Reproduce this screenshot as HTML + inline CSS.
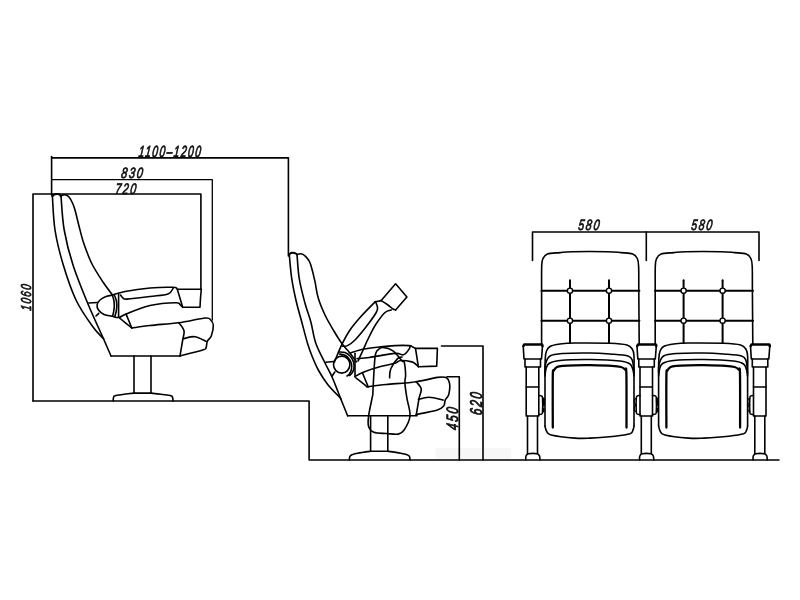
<!DOCTYPE html>
<html><head><meta charset="utf-8">
<style>
html,body{margin:0;padding:0;background:#fff;width:800px;height:600px;overflow:hidden}
svg{display:block;will-change:transform}

</style></head>
<body>
<svg width="800" height="600" viewBox="0 0 800 600">
<rect x="435.6" y="448" width="75.6" height="10.7" fill="#f7f7f7"/>
<g fill="none" stroke="#000" stroke-width="1.6" stroke-linejoin="round" stroke-linecap="round">
<path d="M51.6,195.0 L51.6,156.5"/>
<path d="M51.6,157.9 L288.4,157.9 L288.4,256.0"/>
<path d="M51.6,179.7 L212.3,179.7 L212.3,320.0" stroke-width="1.3"/>
<path d="M33.0,401.0 L33.0,194.0 L200.9,194.0 L200.9,289.5"/>
<path d="M33.0,401.0 L309.1,401.0 L309.1,460.0 L779.0,460.0"/>
<path d="M441.5,346.0 L483.0,346.0 L483.0,460.0"/>
<path d="M447.0,376.7 L459.3,376.7 L459.3,460.0"/>
<path d="M532.5,260.5 L532.5,232.0 L759.0,232.0 L759.0,260.5"/>
<path d="M646.3,232.0 L646.3,260.5"/>
<path d="M52.3,195.0 C52.8,200.8 53.2,218.5 55.0,230.0 C56.8,241.5 59.5,252.3 63.0,264.0 C66.5,275.7 71.0,289.5 76.0,300.0 C81.0,310.5 88.4,320.6 93.0,327.0 C97.6,333.4 101.8,336.8 103.5,338.7"/>
<path d="M103.5,338.7 L111.0,356.0"/>
<path d="M52.5,196.0 C52.9,195.7 53.9,194.6 55.0,194.3 C56.1,194.0 58.0,194.0 59.0,194.3 C60.0,194.6 60.7,195.7 61.0,196.0" stroke-width="2.2"/>
<path d="M61.0,196.0 C61.5,201.7 62.2,218.5 64.2,230.0 C66.2,241.5 69.0,252.7 73.0,265.0 C77.0,277.3 82.9,291.7 88.0,304.0 C93.1,316.3 100.9,332.9 103.5,338.7"/>
<path d="M60.5,196.0 C61.2,195.8 63.6,194.6 65.0,194.8 C66.4,195.0 67.8,195.6 69.0,197.0 C70.2,198.4 71.5,200.8 72.5,203.0 C73.5,205.2 73.9,206.2 75.0,210.0 C76.1,213.8 77.5,220.3 79.0,226.0 C80.5,231.7 81.8,237.7 84.0,244.0 C86.2,250.3 88.8,257.7 92.0,264.0 C95.2,270.3 99.6,276.8 103.0,282.0 C106.4,287.2 110.9,292.8 112.5,295.0"/>
<path d="M111.0,356.0 L180.2,356.0"/>
<path d="M119.0,317.5 C121.1,319.2 129.6,326.2 131.8,328.0"/>
<path d="M131.8,328.0 C134.8,327.6 142.2,326.4 150.0,325.5 C157.8,324.6 169.5,323.9 178.7,322.7 C187.9,321.4 200.0,318.4 205.3,318.0 C210.6,317.6 209.4,318.8 210.7,320.0 C212.0,321.2 213.2,322.6 213.3,325.3 C213.4,328.0 212.3,333.3 211.3,336.0 C210.3,338.7 208.2,339.3 207.3,341.3 C206.4,343.3 206.8,346.6 206.0,348.0 C205.2,349.4 207.0,348.7 202.7,350.0 C198.4,351.3 183.8,355.0 180.0,356.0"/>
<path d="M183.3,338.7 C185.2,338.4 190.9,336.3 194.7,336.7 C198.5,337.1 204.1,340.5 206.0,341.3"/>
<path d="M178.7,322.7 C179.6,324.0 183.3,327.8 184.0,330.7 C184.7,333.6 183.4,335.8 182.7,340.0 C182.0,344.2 180.4,353.3 180.0,356.0"/>
<path d="M112.5,316.3 C111.1,316.0 106.3,315.6 104.0,314.5 C101.7,313.4 99.7,311.6 98.5,310.0 C97.3,308.4 96.8,306.7 97.1,305.0 C97.3,303.3 98.5,301.4 100.0,300.0 C101.5,298.6 103.9,297.3 106.0,296.5 C108.1,295.7 111.4,295.2 112.5,295.0"/>
<path d="M112.5,295.0 C114.6,294.4 118.8,292.7 125.0,291.5 C131.2,290.3 141.9,288.7 150.0,288.0 C158.1,287.3 168.8,287.1 173.3,287.3 C177.9,287.5 176.6,289.0 177.3,289.3"/>
<path d="M120.5,295.0 C120.9,295.5 121.9,297.3 123.0,298.0 C124.1,298.7 122.8,299.4 127.2,299.1 C131.8,298.9 143.2,297.4 150.0,296.5 C156.8,295.6 164.1,295.4 168.0,294.0 C171.9,292.6 172.4,289.0 173.3,288.0"/>
<path d="M112.5,316.3 C113.6,316.5 116.8,317.9 119.0,317.5 C121.2,317.1 120.8,316.0 126.0,314.0 C131.2,312.0 141.7,307.4 150.0,305.5 C158.3,303.6 171.0,302.8 176.0,302.7 C181.0,302.6 178.9,303.9 180.0,304.7 C181.1,305.5 182.2,306.9 182.7,307.3"/>
<path d="M126.1,314.1 L131.8,328.0"/>
<path d="M112.2,295.0 C112.5,295.8 113.5,298.2 113.8,300.0 C114.1,301.8 114.3,304.0 114.3,306.0 C114.3,308.0 113.9,310.3 113.6,312.0 C113.3,313.7 112.7,315.6 112.5,316.3"/>
<path d="M114.3,295.0 C114.6,295.9 115.9,298.7 116.3,300.5 C116.7,302.3 116.8,304.2 116.8,306.0 C116.8,307.8 116.5,309.8 116.2,311.5 C115.9,313.2 115.0,315.7 114.8,316.5"/>
<path d="M118.6,294.0 L118.6,317.0"/>
<path d="M177.3,289.3 L201.3,289.3 L200.5,298.0 L200.0,307.3 L182.7,307.3 L177.3,289.3"/>
<path d="M88.8,303.0 L97.5,302.5"/>
<path d="M96.0,316.0 L98.8,313.3"/>
<path d="M134.0,356.0 L134.0,393.1"/>
<path d="M151.0,356.0 L151.0,393.1"/>
<path d="M113.3,401.0 C113.3,400.5 113.1,398.9 113.4,398.0 C113.7,397.1 113.2,396.4 115.0,395.8 C116.8,395.2 120.8,394.8 124.0,394.3 C127.2,393.9 132.3,393.3 134.0,393.1"/>
<path d="M134.0,393.1 L151.0,393.1"/>
<path d="M151.0,393.1 C152.7,393.3 157.7,393.9 161.0,394.3 C164.3,394.8 169.1,395.2 171.0,395.8 C172.9,396.4 172.4,397.1 172.7,398.0 C173.0,398.9 172.9,400.5 173.0,401.0"/>
<path d="M289.3,255.0 C289.7,258.9 290.5,270.2 291.7,278.3 C292.9,286.4 295.0,296.1 296.7,303.3 C298.4,310.5 299.9,315.0 301.7,321.7 C303.5,328.4 305.8,337.6 307.5,343.3 C309.2,349.0 310.2,351.6 312.0,356.0 C313.8,360.4 315.7,365.3 318.3,370.0 C320.9,374.7 323.8,379.4 327.5,384.2 C331.2,388.9 338.5,396.1 340.8,398.5"/>
<path d="M340.8,399.0 L347.6,415.8"/>
<path d="M289.0,255.0 C289.3,254.7 290.1,253.3 291.0,253.0 C291.9,252.7 293.5,252.8 294.5,253.0 C295.5,253.2 296.6,254.2 297.0,254.5" stroke-width="2.0"/>
<path d="M297.0,254.5 C297.4,258.5 297.9,270.2 299.2,278.3 C300.5,286.4 303.1,296.1 305.0,303.3 C306.9,310.5 309.0,315.0 310.8,321.7 C312.6,328.4 313.4,336.4 315.8,343.3 C318.2,350.2 322.2,357.2 325.0,363.0 C327.8,368.8 329.9,372.0 332.5,378.0 C335.1,384.0 339.4,395.5 340.8,399.0"/>
<path d="M297.0,254.5 C297.7,254.4 299.7,253.6 301.0,253.8 C302.3,254.0 303.8,254.8 305.0,255.8 C306.2,256.8 307.5,258.5 308.5,260.0 C309.5,261.5 309.7,261.4 310.8,265.0 C311.9,268.6 313.8,276.1 315.0,281.7 C316.2,287.2 316.6,292.8 318.3,298.3 C320.0,303.9 322.5,309.7 325.0,315.0 C327.5,320.3 330.5,325.3 333.3,330.0 C336.1,334.7 339.1,339.6 341.7,343.3 C344.3,347.0 346.5,348.9 349.0,352.0 C351.5,355.1 355.2,360.1 356.5,361.8"/>
<path d="M347.6,415.8 L417.0,415.8"/>
<path d="M325.8,362.2 L334.0,361.5"/>
<path d="M331.8,376.5 L334.8,372.0"/>
<path d="M333.5,364.6 A8.2,8.5 0 1,0 349.9,364.6 A8.2,8.5 0 1,0 333.5,364.6Z"/>
<path d="M338.5,352.0 C339.6,352.1 343.0,351.8 345.0,352.5 C347.0,353.2 349.1,354.9 350.5,356.5 C351.9,358.1 352.9,360.1 353.5,362.0 C354.1,363.9 354.2,366.2 354.0,368.0 C353.8,369.8 352.8,371.8 352.0,373.0 C351.2,374.2 349.9,375.1 349.5,375.5"/>
<path d="M339.5,354.0 C340.5,354.2 343.8,354.6 345.5,355.5 C347.2,356.4 348.5,358.1 349.5,359.5 C350.5,360.9 351.2,362.4 351.5,364.0 C351.8,365.6 351.8,367.3 351.5,369.0 C351.2,370.7 350.2,372.8 349.5,374.0 C348.8,375.2 347.4,375.7 347.0,376.0"/>
<path d="M355.0,353.3 L355.0,376.7"/>
<path d="M381.2,300.6 L395.6,283.8 L406.9,296.9 L395.6,310.0"/>
<path d="M381.2,300.6 C382.4,301.3 386.0,303.6 388.0,305.0 C390.0,306.4 391.7,308.2 393.0,309.0 C394.3,309.8 395.2,309.8 395.6,310.0"/>
<path d="M375.0,301.9 C372.7,304.3 365.4,311.6 361.2,316.2 C357.1,320.9 353.2,325.3 350.0,330.0 C346.8,334.7 344.5,339.1 341.9,344.4 C339.3,349.7 335.7,359.1 334.5,362.0"/>
<path d="M375.0,301.9 L378.1,301.2 L381.2,300.6"/>
<path d="M375.6,301.9 C375.9,302.8 377.4,305.7 377.5,307.5 C377.6,309.3 377.9,309.6 376.2,312.5 C374.6,315.4 371.0,320.4 367.5,325.0 C364.0,329.6 358.3,336.6 355.0,340.0 C351.7,343.4 349.6,344.6 347.5,345.6 C345.4,346.6 343.3,346.1 342.5,346.2"/>
<path d="M391.2,310.0 C390.2,310.4 387.5,310.2 385.0,312.5 C382.5,314.8 379.0,319.6 376.2,323.8 C373.5,327.9 370.8,333.4 368.8,337.5 C366.7,341.6 365.5,344.6 363.8,348.5 C362.0,352.4 359.0,358.8 358.1,360.9"/>
<path d="M350.2,353.0 C352.5,352.3 358.7,350.0 363.8,349.0 C368.8,348.0 375.4,347.4 380.6,346.8 C385.8,346.2 390.2,345.8 395.0,345.6 C399.8,345.4 406.2,345.4 409.1,345.6 C412.1,345.8 411.6,346.5 412.7,347.0 C413.8,347.5 415.0,348.2 415.5,348.4"/>
<path d="M357.0,358.6 C359.1,358.4 363.1,358.4 369.4,357.5 C375.7,356.6 389.3,353.8 395.0,353.4 C400.7,352.9 401.1,355.5 403.5,354.8 C405.9,354.1 408.1,350.6 409.1,349.1 C410.2,347.7 409.9,346.5 410.0,346.0"/>
<path d="M354.8,376.6 C356.2,375.8 359.4,373.7 363.8,372.0 C368.1,370.3 375.4,367.9 380.6,366.5 C385.8,365.1 391.7,364.3 395.0,363.3 C398.3,362.3 397.8,360.7 400.7,360.5 C403.5,360.3 409.5,361.3 412.0,361.9 C414.5,362.5 414.4,363.2 415.5,364.0 C416.6,364.8 417.9,366.3 418.4,366.8"/>
<path d="M415.5,348.4 L437.4,348.4 L436.7,366.1 L418.4,366.8 L415.5,348.4"/>
<path d="M355.9,377.8 C357.8,379.2 365.2,385.2 367.1,386.8"/>
<path d="M367.1,386.8 C370.3,386.4 378.1,385.3 386.2,384.5 C394.4,383.7 407.7,382.9 416.2,381.7 C424.7,380.5 432.5,378.2 437.4,377.4 C442.4,376.7 443.9,376.5 445.9,377.4 C447.9,378.4 449.0,380.3 449.5,383.1 C450.0,385.9 449.5,391.6 448.8,394.4 C448.1,397.2 446.0,398.2 445.2,400.1 C444.4,402.0 445.1,404.1 443.8,405.8 C442.5,407.4 442.1,408.5 437.4,410.0 C432.8,411.5 419.7,413.8 416.2,414.5"/>
<path d="M362.6,373.2 L368.2,386.8"/>
<path d="M416.2,381.7 C417.0,382.9 420.7,386.0 421.2,388.8 C421.7,391.6 419.8,394.3 419.0,398.7 C418.2,403.1 416.7,412.3 416.2,415.0"/>
<path d="M418.4,399.4 C420.1,399.0 424.9,397.2 429.0,397.3 C433.1,397.4 440.8,399.6 443.1,400.1"/>
<path d="M372.8,394.6 C373.1,388.4 374.1,365.0 375.0,357.5 C375.9,350.0 377.1,351.3 378.4,349.6 C379.7,347.9 380.5,347.2 382.9,347.4 C385.3,347.6 389.8,348.5 393.0,350.8 C396.2,353.0 400.1,359.0 402.0,360.9 C403.9,362.8 403.6,359.7 404.2,362.0 C404.8,364.3 405.5,371.1 405.6,374.6 C405.7,378.1 404.7,379.1 404.9,383.1 C405.1,387.1 406.1,393.2 407.0,398.7 C407.9,404.2 410.5,410.8 410.0,416.0 C409.5,421.2 406.1,427.0 404.1,430.0 C402.2,433.0 401.2,433.5 398.3,434.1 C395.4,434.7 390.7,433.8 386.6,433.5 C382.5,433.2 376.8,433.5 373.8,432.3 C370.8,431.1 369.5,429.2 368.6,426.5 C367.7,423.8 367.9,421.3 368.6,416.0 C369.3,410.7 372.1,398.2 372.8,394.6"/>
<path d="M389.6,377.8 C389.8,376.2 389.4,371.9 390.8,368.8 C392.1,365.6 395.6,360.6 397.5,358.6 C399.4,356.6 401.2,357.3 402.0,357.0"/>
<path d="M370.6,415.8 L370.6,451.3"/>
<path d="M387.8,415.8 L387.8,451.3"/>
<path d="M349.3,460.0 C349.5,459.3 349.1,456.7 350.5,455.6 C351.9,454.5 354.2,454.0 357.5,453.3 C360.8,452.6 368.3,451.6 370.5,451.3"/>
<path d="M370.5,451.3 L387.8,451.3"/>
<path d="M387.8,451.3 C389.9,451.6 397.1,452.6 400.6,453.3 C404.1,454.0 407.2,454.5 408.8,455.6 C410.4,456.7 409.8,459.3 410.0,460.0"/>
<path d="M541.6,344.0 C541.6,335.0 541.6,303.0 541.6,290.0 C541.6,277.0 541.5,271.2 541.7,266.0 C541.9,260.8 541.8,261.0 542.8,259.0 C543.8,257.0 544.5,255.1 547.4,254.0 C550.3,252.9 555.9,253.0 560.0,252.6 C564.1,252.2 564.2,251.8 572.0,251.7 C579.8,251.5 598.8,251.5 607.0,251.7 C615.2,251.8 616.7,252.2 621.0,252.6 C625.3,253.0 630.0,253.0 632.7,254.0 C635.4,255.0 636.3,256.5 637.3,258.5 C638.3,260.5 638.4,260.8 638.6,266.0 C638.9,271.2 638.7,277.0 638.8,290.0 C638.9,303.0 639.1,335.0 639.2,344.0"/>
<path d="M541.5,290.7 L639.4,290.7" stroke-width="2.0"/>
<path d="M541.5,320.7 L639.4,320.7" stroke-width="2.0"/>
<path d="M570.0,280.3 L570.0,343.0" stroke-width="2.0"/>
<path d="M609.0,280.3 L609.0,343.0" stroke-width="2.0"/>
<path d="M567.4,290.7 a2.6,2.6 0 1,0 5.2,0 a2.6,2.6 0 1,0 -5.2,0Z" stroke-width="1.4" fill="#fff"/>
<path d="M567.4,320.7 a2.6,2.6 0 1,0 5.2,0 a2.6,2.6 0 1,0 -5.2,0Z" stroke-width="1.4" fill="#fff"/>
<path d="M606.4,290.7 a2.6,2.6 0 1,0 5.2,0 a2.6,2.6 0 1,0 -5.2,0Z" stroke-width="1.4" fill="#fff"/>
<path d="M606.4,320.7 a2.6,2.6 0 1,0 5.2,0 a2.6,2.6 0 1,0 -5.2,0Z" stroke-width="1.4" fill="#fff"/>
<path d="M545.0,373.0 C545.0,370.5 545.0,361.7 545.3,358.0 C545.5,354.3 545.7,352.9 546.5,351.0 C547.3,349.1 547.8,347.7 550.0,346.5 C552.2,345.3 555.8,344.6 560.0,344.0 C564.2,343.4 566.7,343.1 575.0,343.0 C583.3,342.9 601.3,343.0 610.0,343.3 C618.7,343.6 623.2,344.0 627.0,345.0 C630.8,346.0 631.3,347.7 632.5,349.5 C633.7,351.3 633.8,352.1 634.0,356.0 C634.2,359.9 634.0,370.2 634.0,373.0"/>
<path d="M545.0,373.0 L545.0,426.0"/>
<path d="M634.0,373.0 L634.0,426.0"/>
<path d="M545.0,426.0 C545.2,426.8 545.5,429.5 546.5,431.0 C547.5,432.5 546.5,433.8 551.2,435.0 C556.0,436.2 568.5,437.6 575.0,438.1 C581.5,438.6 583.3,438.4 590.0,438.1 C596.7,437.8 608.3,437.0 615.0,436.2 C621.7,435.5 627.0,434.8 630.0,433.8 C633.0,432.7 632.3,431.3 633.0,430.0 C633.7,428.7 633.8,426.7 634.0,426.0"/>
<path d="M545.0,373.0 C545.1,371.5 544.7,366.8 545.5,364.0 C546.3,361.2 547.1,357.8 550.0,356.0 C552.9,354.2 556.3,354.0 563.0,353.5 C569.7,353.0 582.2,352.9 590.0,353.0 C597.8,353.1 603.7,353.5 610.0,354.0 C616.3,354.5 624.2,354.8 628.0,356.0 C631.8,357.2 631.5,358.2 632.5,361.0 C633.5,363.8 633.8,371.0 634.0,373.0"/>
<path d="M545.0,376.0 C545.2,374.8 545.3,371.1 546.0,369.0 C546.7,366.9 546.7,364.9 549.0,363.5 C551.3,362.1 553.2,361.2 560.0,360.5 C566.8,359.8 580.0,359.4 590.0,359.5 C600.0,359.6 613.3,360.2 620.0,361.0 C626.7,361.8 627.8,362.5 630.0,364.0 C632.2,365.5 632.3,368.0 633.0,370.0 C633.7,372.0 633.8,375.0 634.0,376.0"/>
<path d="M552.8,427.5 C552.8,418.9 552.6,385.5 552.8,376.0 C553.0,366.5 553.1,372.0 553.8,370.5 C554.5,369.0 555.5,367.8 557.0,367.0 C558.5,366.2 560.0,366.1 563.0,365.8 C566.0,365.5 570.5,365.4 575.0,365.3 C579.5,365.2 583.8,365.1 590.0,365.2 C596.2,365.3 606.8,365.5 612.0,365.8 C617.2,366.1 618.8,366.4 621.0,367.0 C623.2,367.6 624.1,368.3 625.0,369.5 C625.9,370.7 626.1,364.3 626.4,374.0 C626.6,383.7 626.5,418.6 626.5,427.5" stroke-width="2.3"/>
<path d="M655.2,344.0 C655.2,335.0 655.2,303.0 655.2,290.0 C655.2,277.0 655.1,271.2 655.3,266.0 C655.5,260.8 655.5,261.0 656.4,259.0 C657.3,257.0 658.1,255.1 661.0,254.0 C663.9,252.9 669.5,253.0 673.6,252.6 C677.7,252.2 677.8,251.8 685.6,251.7 C693.4,251.5 712.4,251.5 720.6,251.7 C728.8,251.8 730.3,252.2 734.6,252.6 C738.9,253.0 743.6,253.0 746.3,254.0 C749.0,255.0 749.9,256.5 750.9,258.5 C751.9,260.5 752.0,260.8 752.2,266.0 C752.5,271.2 752.3,277.0 752.4,290.0 C752.5,303.0 752.7,335.0 752.8,344.0"/>
<path d="M655.1,290.7 L753.0,290.7" stroke-width="2.0"/>
<path d="M655.1,320.7 L753.0,320.7" stroke-width="2.0"/>
<path d="M683.6,280.3 L683.6,343.0" stroke-width="2.0"/>
<path d="M722.6,280.3 L722.6,343.0" stroke-width="2.0"/>
<path d="M681.0,290.7 a2.6,2.6 0 1,0 5.2,0 a2.6,2.6 0 1,0 -5.2,0Z" stroke-width="1.4" fill="#fff"/>
<path d="M681.0,320.7 a2.6,2.6 0 1,0 5.2,0 a2.6,2.6 0 1,0 -5.2,0Z" stroke-width="1.4" fill="#fff"/>
<path d="M720.0,290.7 a2.6,2.6 0 1,0 5.2,0 a2.6,2.6 0 1,0 -5.2,0Z" stroke-width="1.4" fill="#fff"/>
<path d="M720.0,320.7 a2.6,2.6 0 1,0 5.2,0 a2.6,2.6 0 1,0 -5.2,0Z" stroke-width="1.4" fill="#fff"/>
<path d="M658.6,373.0 C658.6,370.5 658.6,361.7 658.9,358.0 C659.1,354.3 659.3,352.9 660.1,351.0 C660.9,349.1 661.4,347.7 663.6,346.5 C665.9,345.3 669.4,344.6 673.6,344.0 C677.8,343.4 680.3,343.1 688.6,343.0 C696.9,342.9 714.9,343.0 723.6,343.3 C732.3,343.6 736.9,344.0 740.6,345.0 C744.4,346.0 744.9,347.7 746.1,349.5 C747.3,351.3 747.4,352.1 747.6,356.0 C747.9,359.9 747.6,370.2 747.6,373.0"/>
<path d="M658.6,373.0 L658.6,426.0"/>
<path d="M747.6,373.0 L747.6,426.0"/>
<path d="M658.6,426.0 C658.9,426.8 659.1,429.5 660.1,431.0 C661.1,432.5 660.1,433.8 664.9,435.0 C669.6,436.2 682.1,437.6 688.6,438.1 C695.1,438.6 696.9,438.4 703.6,438.1 C710.3,437.8 721.9,437.0 728.6,436.2 C735.3,435.5 740.6,434.8 743.6,433.8 C746.6,432.7 745.9,431.3 746.6,430.0 C747.3,428.7 747.4,426.7 747.6,426.0"/>
<path d="M658.6,373.0 C658.7,371.5 658.3,366.8 659.1,364.0 C659.9,361.2 660.7,357.8 663.6,356.0 C666.5,354.2 669.9,354.0 676.6,353.5 C683.3,353.0 695.8,352.9 703.6,353.0 C711.4,353.1 717.3,353.5 723.6,354.0 C729.9,354.5 737.9,354.8 741.6,356.0 C745.4,357.2 745.1,358.2 746.1,361.0 C747.1,363.8 747.4,371.0 747.6,373.0"/>
<path d="M658.6,376.0 C658.8,374.8 658.9,371.1 659.6,369.0 C660.3,366.9 660.3,364.9 662.6,363.5 C664.9,362.1 666.8,361.2 673.6,360.5 C680.4,359.8 693.6,359.4 703.6,359.5 C713.6,359.6 726.9,360.2 733.6,361.0 C740.3,361.8 741.4,362.5 743.6,364.0 C745.8,365.5 745.9,368.0 746.6,370.0 C747.3,372.0 747.4,375.0 747.6,376.0"/>
<path d="M666.4,427.5 C666.4,418.9 666.2,385.5 666.4,376.0 C666.6,366.5 666.7,372.0 667.4,370.5 C668.1,369.0 669.1,367.8 670.6,367.0 C672.1,366.2 673.6,366.1 676.6,365.8 C679.6,365.5 684.1,365.4 688.6,365.3 C693.1,365.2 697.4,365.1 703.6,365.2 C709.8,365.3 720.4,365.5 725.6,365.8 C730.8,366.1 732.4,366.4 734.6,367.0 C736.8,367.6 737.7,368.3 738.6,369.5 C739.5,370.7 739.8,364.3 740.0,374.0 C740.2,383.7 740.1,418.6 740.1,427.5" stroke-width="2.3"/>
<path d="M523.5,346.0 L524.2,344.5 L542.0,344.5 L542.5,346.0" stroke-width="2.6"/>
<path d="M523.2,346.0 L524.0,359.0 L541.5,359.0 L542.5,346.0"/>
<path d="M525.0,359.0 L525.0,367.0 L540.5,367.0 L540.5,359.0"/>
<path d="M526.2,367.0 L526.2,416.0 L538.8,416.0 L538.8,367.0"/>
<path d="M526.2,387.0 L538.8,387.0"/>
<path d="M527.5,416.0 L527.5,453.8"/>
<path d="M537.5,416.0 L537.5,453.8"/>
<path d="M525.8,460.0 C525.8,459.3 525.5,457.0 526.0,456.0 C526.5,455.0 526.7,454.1 528.5,453.8 C530.3,453.4 535.2,453.4 537.0,453.8 C538.8,454.1 539.0,455.0 539.5,456.0 C540.0,457.0 539.9,459.3 540.0,460.0"/>
<path d="M538.8,395.6 C539.2,395.6 540.7,395.4 541.3,395.8 C541.9,396.2 542.3,395.3 542.5,398.0 C542.7,400.7 542.7,409.3 542.5,412.0 C542.3,414.7 541.9,413.8 541.3,414.2 C540.7,414.6 539.2,414.4 538.8,414.4"/>
<path d="M543.5,399.0 L543.5,405.0" stroke-width="2.8"/>
<path d="M543.5,408.5 L543.5,411.5" stroke-width="2.2"/>
<path d="M637.3,346.0 L638.0,344.5 L655.8,344.5 L656.3,346.0" stroke-width="2.6"/>
<path d="M637.0,346.0 L637.8,359.0 L655.3,359.0 L656.3,346.0"/>
<path d="M638.8,359.0 L638.8,367.0 L654.3,367.0 L654.3,359.0"/>
<path d="M640.0,367.0 L640.0,416.0 L652.5,416.0 L652.5,367.0"/>
<path d="M640.0,387.0 L652.5,387.0"/>
<path d="M641.3,416.0 L641.3,453.8"/>
<path d="M651.3,416.0 L651.3,453.8"/>
<path d="M639.6,460.0 C639.6,459.3 639.3,457.0 639.8,456.0 C640.2,455.0 640.5,454.1 642.3,453.8 C644.1,453.4 649.0,453.4 650.8,453.8 C652.6,454.1 652.8,455.0 653.3,456.0 C653.8,457.0 653.7,459.3 653.8,460.0"/>
<path d="M652.5,395.6 C653.0,395.6 654.5,395.4 655.1,395.8 C655.7,396.2 656.1,395.3 656.3,398.0 C656.5,400.7 656.5,409.3 656.3,412.0 C656.1,414.7 655.7,413.8 655.1,414.2 C654.5,414.6 653.0,414.4 652.5,414.4"/>
<path d="M657.3,399.0 L657.3,405.0" stroke-width="2.8"/>
<path d="M657.3,408.5 L657.3,411.5" stroke-width="2.2"/>
<path d="M640.0,395.6 C639.6,395.6 638.1,395.4 637.5,395.8 C636.9,396.2 636.5,395.3 636.3,398.0 C636.1,400.7 636.1,409.3 636.3,412.0 C636.5,414.7 636.9,413.8 637.5,414.2 C638.1,414.6 639.6,414.4 640.0,414.4"/>
<path d="M636.3,398.5 C636.0,398.7 634.8,398.7 634.5,399.5 C634.2,400.3 634.2,402.7 634.5,403.5 C634.8,404.3 636.0,404.3 636.3,404.5" stroke-width="1.2"/>
<path d="M636.3,405.5 C636.0,405.7 634.8,405.7 634.5,406.5 C634.2,407.3 634.2,409.7 634.5,410.5 C634.8,411.3 636.0,411.3 636.3,411.5" stroke-width="1.2"/>
<path d="M750.8,346.0 L751.5,344.5 L769.3,344.5 L769.8,346.0" stroke-width="2.6"/>
<path d="M750.5,346.0 L751.3,359.0 L768.8,359.0 L769.8,346.0"/>
<path d="M752.3,359.0 L752.3,367.0 L767.8,367.0 L767.8,359.0"/>
<path d="M753.5,367.0 L753.5,416.0 L766.0,416.0 L766.0,367.0"/>
<path d="M753.5,387.0 L766.0,387.0"/>
<path d="M754.8,416.0 L754.8,453.8"/>
<path d="M764.8,416.0 L764.8,453.8"/>
<path d="M753.1,460.0 C753.1,459.3 752.8,457.0 753.3,456.0 C753.8,455.0 754.0,454.1 755.8,453.8 C757.6,453.4 762.5,453.4 764.3,453.8 C766.1,454.1 766.3,455.0 766.8,456.0 C767.3,457.0 767.2,459.3 767.3,460.0"/>
<path d="M753.5,395.6 C753.1,395.6 751.6,395.4 751.0,395.8 C750.4,396.2 750.0,395.3 749.8,398.0 C749.6,400.7 749.6,409.3 749.8,412.0 C750.0,414.7 750.4,413.8 751.0,414.2 C751.6,414.6 753.1,414.4 753.5,414.4"/>
<path d="M749.8,398.5 C749.5,398.7 748.3,398.7 748.0,399.5 C747.7,400.3 747.7,402.7 748.0,403.5 C748.3,404.3 749.5,404.3 749.8,404.5" stroke-width="1.2"/>
<path d="M749.8,405.5 C749.5,405.7 748.3,405.7 748.0,406.5 C747.7,407.3 747.7,409.7 748.0,410.5 C748.3,411.3 749.5,411.3 749.8,411.5" stroke-width="1.2"/>
</g>
<g style="font-family:'Liberation Sans',sans-serif;font-style:italic;fill:#111;stroke:#111;stroke-width:0.9">
<text transform="translate(138.30,157.00) scale(0.6038,0.9631) skewX(-10)" font-size="16.8" letter-spacing="2.5">1100–1200</text>
<text transform="translate(120.80,177.70) scale(0.6498,0.8889) skewX(-10)" font-size="16.8" letter-spacing="2.5">830</text>
<text transform="translate(114.80,193.50) scale(0.6275,0.9002) skewX(-10)" font-size="16.8" letter-spacing="2.5">720</text>
<text transform="translate(577.70,230.25) scale(0.6432,0.8889) skewX(-10)" font-size="16.8" letter-spacing="2.5">580</text>
<text transform="translate(690.80,230.25) scale(0.6346,0.8889) skewX(-10)" font-size="16.8" letter-spacing="2.5">580</text>
<text transform="translate(31.10,310.90) rotate(-90) scale(0.5793,0.8556) skewX(-10)" font-size="16.8" letter-spacing="2.5">1060</text>
<text transform="translate(457.80,430.40) rotate(-90) scale(0.6857,0.9771) skewX(-10)" font-size="16.8" letter-spacing="2.5">450</text>
<text transform="translate(482.00,415.40) rotate(-90) scale(0.6787,1.0170) skewX(-10)" font-size="16.8" letter-spacing="2.5">620</text>
</g>
</svg>
</body></html>
